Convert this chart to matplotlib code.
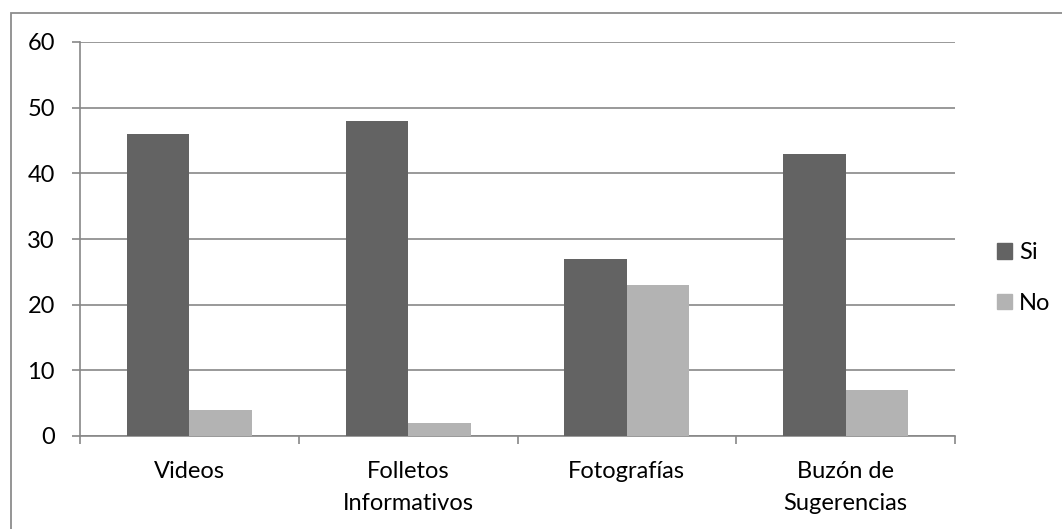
import matplotlib.pyplot as plt
import matplotlib.patches as mpatches
import numpy as np

categories = ["Videos", "Folletos\nInformativos", "Fotografías", "Buzón de\nSugerencias"]
si_values = [46, 48, 27, 43]
no_values = [4, 2, 23, 7]
y_ticks = [0, 10, 20, 30, 40, 50, 60]

SI_COLOR = "#636363"
NO_COLOR = "#b3b3b3"
GRID_COLOR = "#878787"
FS = 17

plt.rcParams["font.family"] = ["Lato", "DejaVu Sans"]

W, H = 1062, 529
fig = plt.figure(figsize=(W / 100, H / 100), dpi=100)

# outer chart frame (runs off the right and bottom edges)
fig.patches.append(
    mpatches.Rectangle((11 / W, -0.1), 1.2, 1 - 13 / H + 0.1, transform=fig.transFigure,
                       fill=False, edgecolor="#8c8c8c", linewidth=1.3)
)

ax = fig.add_axes([80 / W, 1 - 436 / H, (955 - 80) / W, (436 - 42) / H])

x = np.arange(len(categories))
bar_w = 1 / 3.5
ax.bar(x - bar_w / 2, si_values, width=bar_w, color=SI_COLOR, label="Si", zorder=3)
ax.bar(x + bar_w / 2, no_values, width=bar_w, color=NO_COLOR, label="No", zorder=3)

ax.set_xlim(-0.5, len(categories) - 0.5)
ax.set_ylim(0, 60)
ax.set_yticks(y_ticks)
ax.yaxis.grid(True, color=GRID_COLOR, linewidth=1.2, zorder=0)
ax.set_axisbelow(True)

for side in ["top", "right"]:
    ax.spines[side].set_visible(False)
for side in ["left", "bottom"]:
    ax.spines[side].set_color(GRID_COLOR)
    ax.spines[side].set_linewidth(1.2)

ax.tick_params(axis="y", length=6, width=1.2, color=GRID_COLOR, labelsize=FS, pad=12)
ax.set_yticklabels([str(v) for v in y_ticks])

# category labels sit between the minor ticks at group boundaries
ax.set_xticks(x)
ax.set_xticklabels(categories, fontsize=FS, linespacing=1.65)
ax.tick_params(axis="x", which="major", length=0, pad=18)
ax.set_xticks(np.arange(-0.5, len(categories)), minor=True)
ax.tick_params(axis="x", which="minor", length=6, width=1.2, color=GRID_COLOR)

handles = [mpatches.Patch(color=SI_COLOR, label="Si"), mpatches.Patch(color=NO_COLOR, label="No")]
fig.legend(handles=handles, loc="center left", bbox_to_anchor=(997 / W, 1 - 278 / H),
           frameon=False, fontsize=FS, handlelength=0.63, handleheight=0.63,
           handletextpad=0.3, labelspacing=1.25, borderpad=0, borderaxespad=0)

fig.savefig("out.png", dpi=100)
